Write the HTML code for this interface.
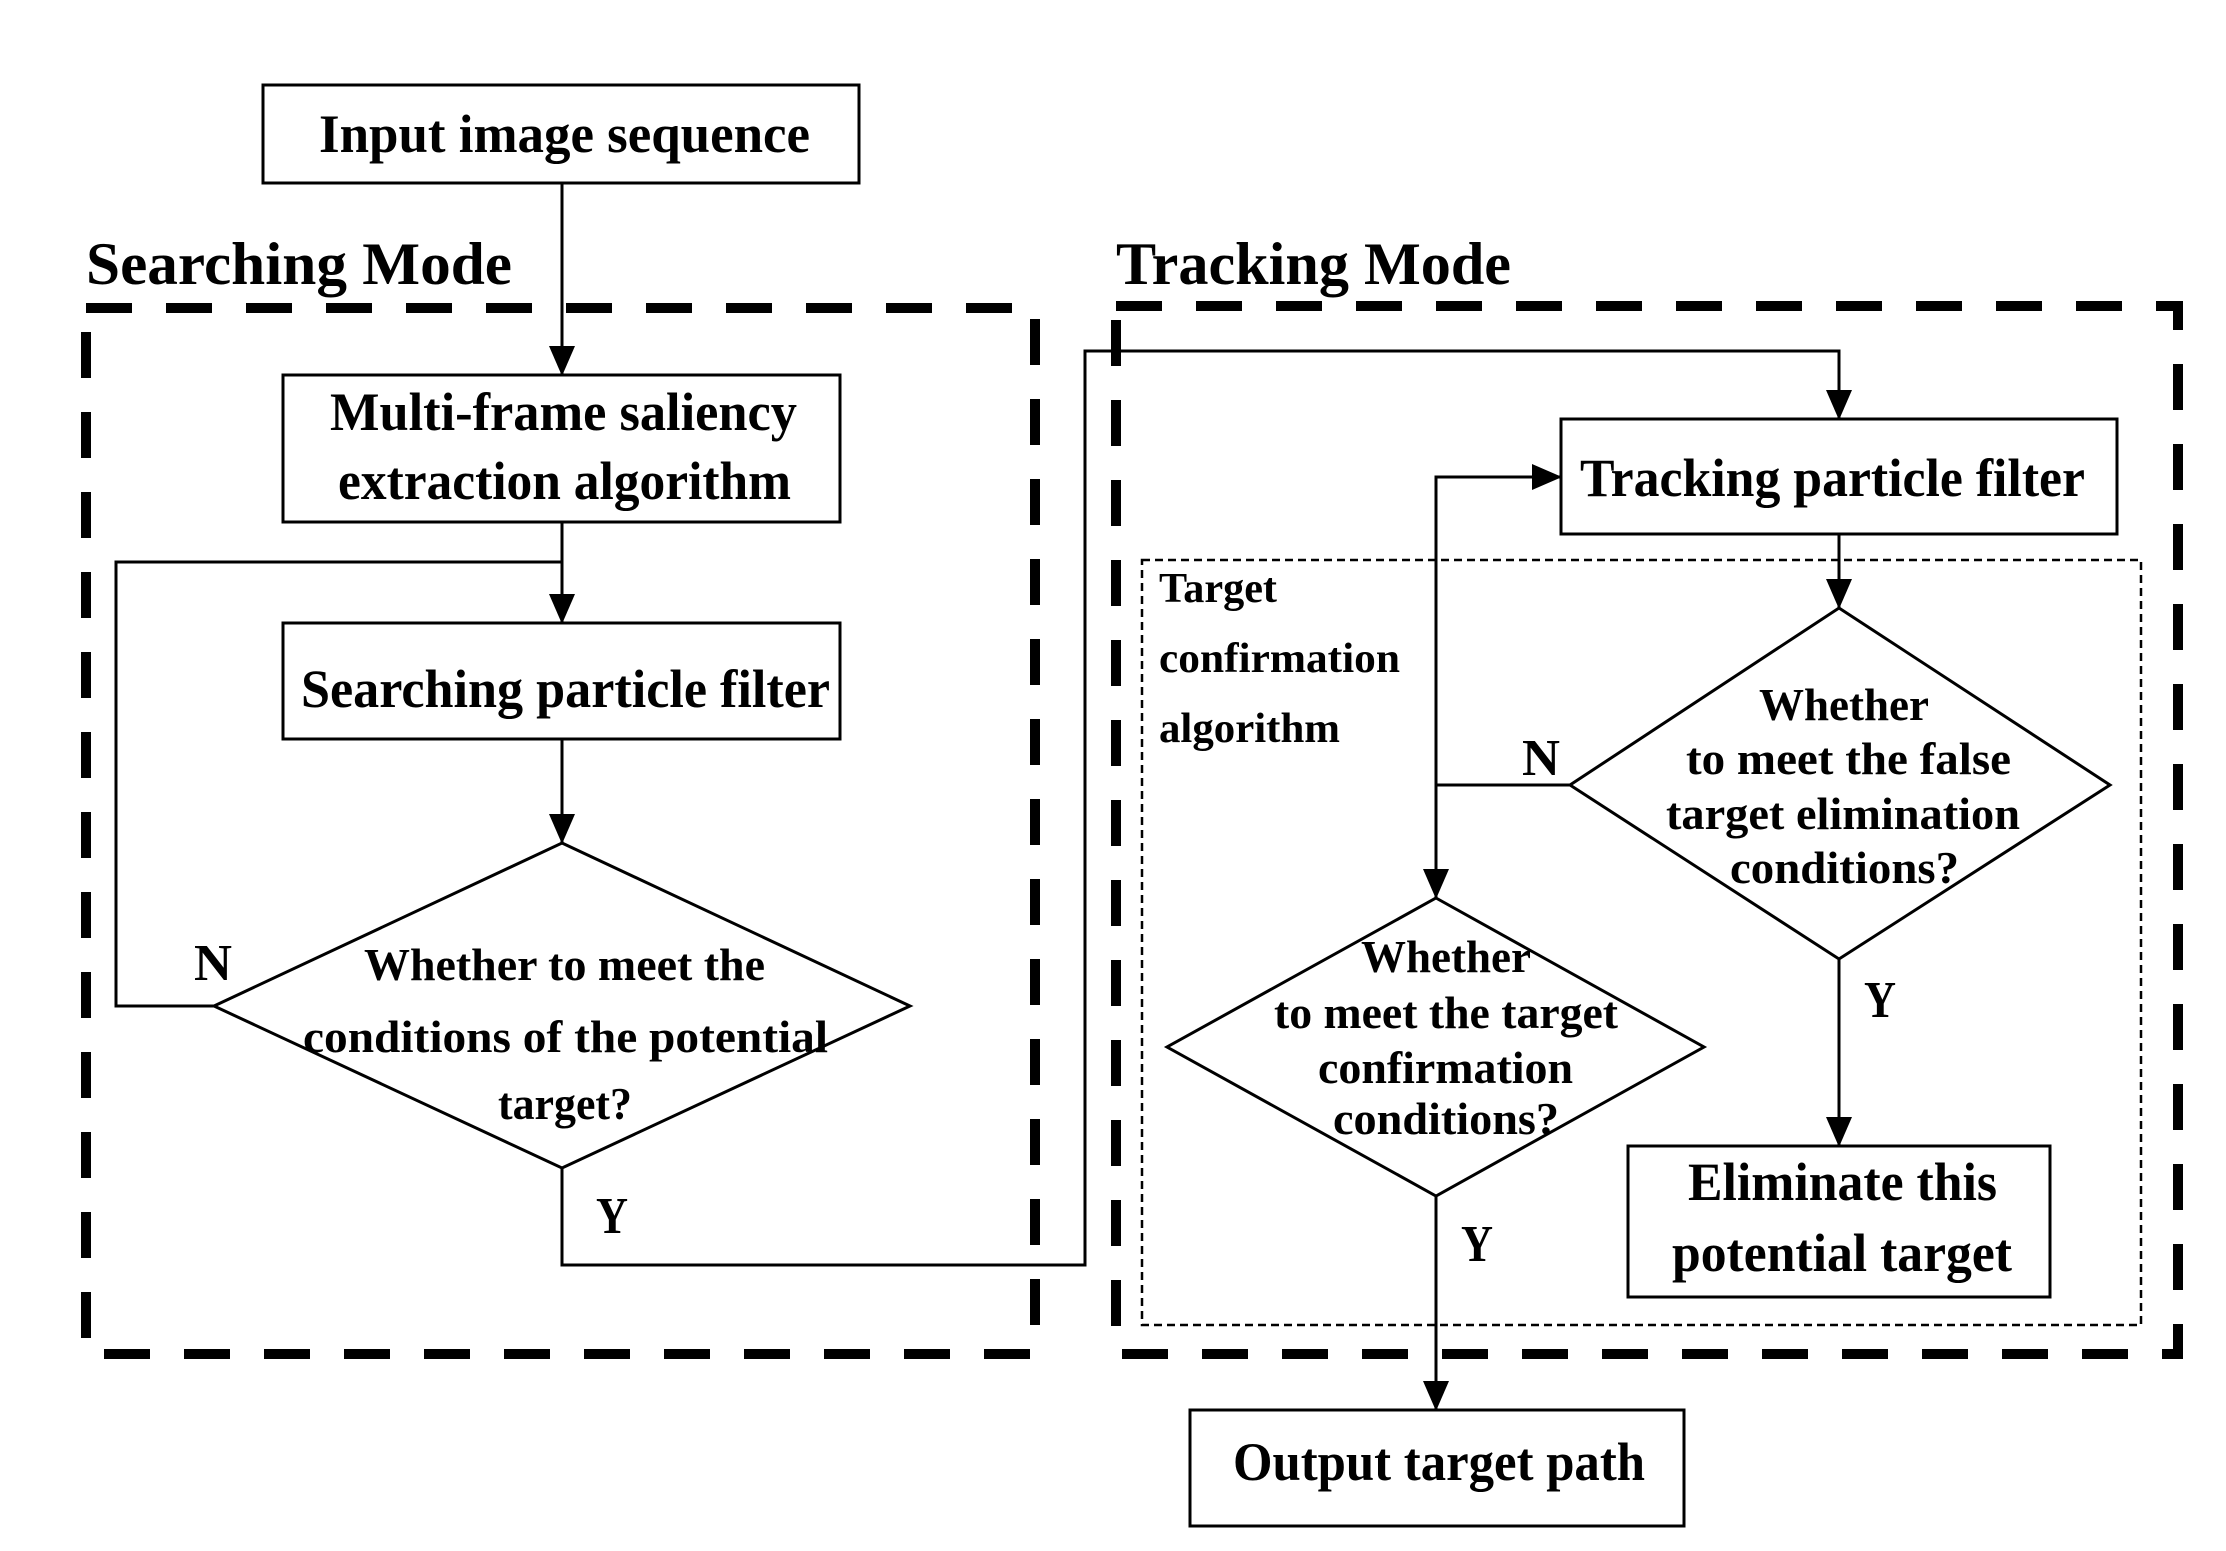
<!DOCTYPE html>
<html><head><meta charset="utf-8"><style>html,body{margin:0;padding:0;background:#fff}svg{display:block}</style></head>
<body>
<svg width="2226" height="1551" viewBox="0 0 2226 1551" xmlns="http://www.w3.org/2000/svg" font-family="'Liberation Serif', serif" font-weight="bold" fill="#000">
<defs>
<marker id="a" markerWidth="32" markerHeight="32" refX="29" refY="13" orient="auto" markerUnits="userSpaceOnUse">
<path d="M0,0 L30,13 L0,26 Z" fill="#000"/></marker>
</defs>
<g fill="none" stroke="#000">
<rect x="86" y="308" width="949" height="1046" stroke-width="10" stroke-dasharray="46 34"/>
<rect x="1116" y="306" width="1062" height="1048" stroke-width="10" stroke-dasharray="46 34"/>
<rect x="1142" y="560" width="999" height="765" stroke-width="2.5" stroke-dasharray="8 5"/>
<g stroke-width="3">
<rect x="263" y="85" width="596" height="98"/>
<rect x="283" y="375" width="557" height="147"/>
<rect x="283" y="623" width="557" height="116"/>
<polygon points="562,843 910,1006 562,1168 214,1006"/>
<rect x="1561" y="419" width="556" height="115"/>
<polygon points="1839,608 2110,785 1839,959 1570,785"/>
<polygon points="1436,898 1704,1047 1436,1196 1167,1047"/>
<rect x="1628" y="1146" width="422" height="151"/>
<rect x="1190" y="1410" width="494" height="116"/>
<line x1="562" y1="183" x2="562" y2="375" marker-end="url(#a)"/>
<line x1="562" y1="522" x2="562" y2="623" marker-end="url(#a)"/>
<polyline points="214,1006 116,1006 116,562 562,562"/>
<line x1="562" y1="739" x2="562" y2="843" marker-end="url(#a)"/>
<polyline points="562,1168 562,1265 1085,1265 1085,351 1839,351 1839,419" marker-end="url(#a)"/>
<line x1="1839" y1="534" x2="1839" y2="608" marker-end="url(#a)"/>
<polyline points="1570,785 1436,785 1436,898" marker-end="url(#a)"/>
<polyline points="1436,785 1436,477 1561,477" marker-end="url(#a)"/>
<line x1="1839" y1="959" x2="1839" y2="1146" marker-end="url(#a)"/>
<line x1="1436" y1="1196" x2="1436" y2="1410" marker-end="url(#a)"/>
</g>
</g>
<text x="319" y="152" font-size="54" textLength="491" lengthAdjust="spacingAndGlyphs">Input image sequence</text>
<text x="86" y="284" font-size="60" textLength="426" lengthAdjust="spacingAndGlyphs">Searching Mode</text>
<text x="1116" y="284" font-size="60" textLength="395" lengthAdjust="spacingAndGlyphs">Tracking Mode</text>
<text x="330" y="430" font-size="54" textLength="467" lengthAdjust="spacingAndGlyphs">Multi-frame saliency</text>
<text x="338" y="499" font-size="54" textLength="453" lengthAdjust="spacingAndGlyphs">extraction algorithm</text>
<text x="301" y="707" font-size="54" textLength="529" lengthAdjust="spacingAndGlyphs">Searching particle filter</text>
<text x="364" y="980" font-size="46" textLength="401" lengthAdjust="spacingAndGlyphs">Whether to meet the</text>
<text x="303" y="1052" font-size="46" textLength="525" lengthAdjust="spacingAndGlyphs">conditions of the potential</text>
<text x="498" y="1119" font-size="46" textLength="134" lengthAdjust="spacingAndGlyphs">target?</text>
<text x="194" y="980" font-size="52" textLength="38" lengthAdjust="spacingAndGlyphs">N</text>
<text x="596" y="1233" font-size="52" textLength="32" lengthAdjust="spacingAndGlyphs">Y</text>
<text x="1580" y="496" font-size="54" textLength="505" lengthAdjust="spacingAndGlyphs">Tracking particle filter</text>
<text x="1159" y="602" font-size="42" textLength="118" lengthAdjust="spacingAndGlyphs">Target</text>
<text x="1159" y="672" font-size="42" textLength="241" lengthAdjust="spacingAndGlyphs">confirmation</text>
<text x="1159" y="742" font-size="42" textLength="181" lengthAdjust="spacingAndGlyphs">algorithm</text>
<text x="1759" y="720" font-size="46" textLength="170" lengthAdjust="spacingAndGlyphs">Whether</text>
<text x="1686" y="774" font-size="46" textLength="325" lengthAdjust="spacingAndGlyphs">to meet the false</text>
<text x="1666" y="829" font-size="46" textLength="354" lengthAdjust="spacingAndGlyphs">target elimination</text>
<text x="1730" y="883" font-size="46" textLength="229" lengthAdjust="spacingAndGlyphs">conditions?</text>
<text x="1522" y="775" font-size="52" textLength="38" lengthAdjust="spacingAndGlyphs">N</text>
<text x="1361" y="972" font-size="46" textLength="170" lengthAdjust="spacingAndGlyphs">Whether</text>
<text x="1274" y="1028" font-size="46" textLength="344" lengthAdjust="spacingAndGlyphs">to meet the target</text>
<text x="1318" y="1083" font-size="46" textLength="255" lengthAdjust="spacingAndGlyphs">confirmation</text>
<text x="1333" y="1134" font-size="46" textLength="226" lengthAdjust="spacingAndGlyphs">conditions?</text>
<text x="1864" y="1017" font-size="52" textLength="32" lengthAdjust="spacingAndGlyphs">Y</text>
<text x="1461" y="1261" font-size="52" textLength="32" lengthAdjust="spacingAndGlyphs">Y</text>
<text x="1688" y="1200" font-size="54" textLength="309" lengthAdjust="spacingAndGlyphs">Eliminate this</text>
<text x="1672" y="1271" font-size="54" textLength="340" lengthAdjust="spacingAndGlyphs">potential target</text>
<text x="1233" y="1480" font-size="54" textLength="412" lengthAdjust="spacingAndGlyphs">Output target path</text>
</svg>
</body></html>
